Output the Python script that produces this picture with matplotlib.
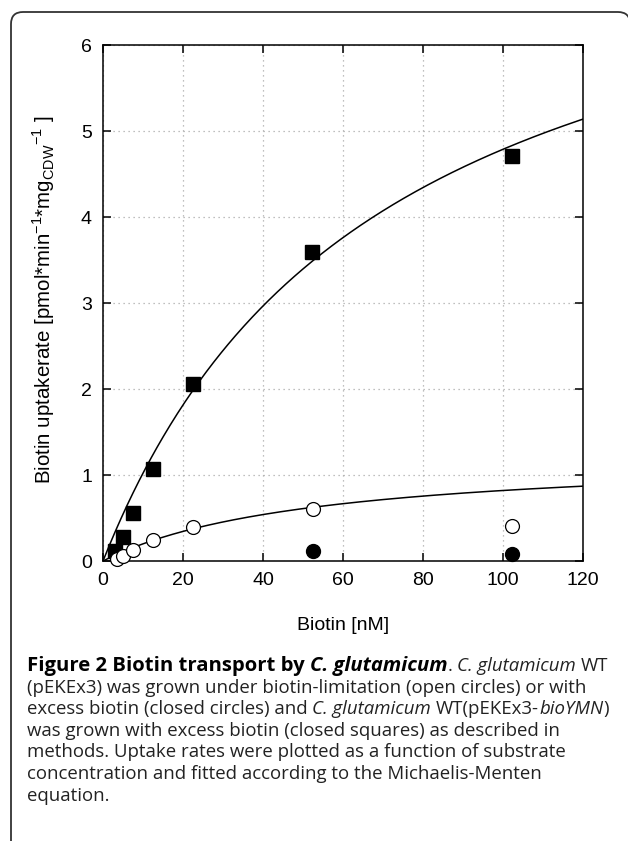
import numpy as np
import matplotlib
matplotlib.use('Agg')
from matplotlib import pyplot as plt
from matplotlib.path import Path
from matplotlib.patches import PathPatch

# data
sq_x = [3.0, 4.9, 7.4, 12.4, 22.4, 52.2, 102.3]
sq_y = [0.12, 0.28, 0.56, 1.07, 2.06, 3.59, 4.71]
open_x = [3.4, 5.1, 7.4, 12.4, 22.6, 52.4, 102.3]
open_y = [0.02, 0.06, 0.13, 0.24, 0.39, 0.60, 0.41]
closed_x = [52.4, 102.3]
closed_y = [0.12, 0.08]

# Michaelis-Menten fits (Vmax, Km)
sq_fit = (8.11, 69.4)
open_fit = (1.253, 52.8)

x_ticks = [0, 20, 40, 60, 80, 100, 120]
y_ticks = [0, 1, 2, 3, 4, 5, 6]

W, H = 628, 841
plt.rcParams['font.family'] = ['Liberation Sans', 'DejaVu Sans']
fig = plt.figure(figsize=(W / 100, H / 100), dpi=100)

# frame with rounded top corners (pixel coords -> inches)
def px(x, y):
    return (x / 100, (H - y) / 100)

verts = [px(11, H + 5), px(11, 24), px(11, 12), px(23, 12), px(618, 12),
         px(630, 12), px(630, 24), px(630, H + 5)]
codes = [Path.MOVETO, Path.LINETO, Path.CURVE3, Path.CURVE3, Path.LINETO,
         Path.CURVE3, Path.CURVE3, Path.LINETO]
fig.patches.append(PathPatch(Path(verts, codes), transform=fig.dpi_scale_trans,
                             fc='none', ec='#333333', lw=1.3))

ax = fig.add_axes([103 / W, 1 - 561 / H, 480 / W, 516 / H])

xx = np.linspace(0, 120, 400)
ax.plot(xx, sq_fit[0] * xx / (sq_fit[1] + xx), color='black', lw=1.1, zorder=3)
ax.plot(xx, open_fit[0] * xx / (open_fit[1] + xx), color='black', lw=1.1, zorder=3)

ax.plot(sq_x, sq_y, 's', color='black', ms=9.5, zorder=4, clip_on=False)
ax.plot(closed_x, closed_y, 'o', color='black', ms=10, zorder=5, clip_on=False)
ax.plot(open_x, open_y, 'o', mfc='white', mec='black', mew=0.9, ms=10, zorder=6, clip_on=False)

ax.set_xlim(0, 120)
ax.set_ylim(0, 6)
ax.set_xticks(x_ticks)
ax.set_yticks(y_ticks)
ax.tick_params(direction='in', length=6, width=1.1, top=True, right=True,
               labelsize=14, pad=8)
for s in ax.spines.values():
    s.set_linewidth(1.1)
ax.grid(True, linestyle=(0, (1, 3)), color='#aaaaaa', lw=0.9)
ax.set_axisbelow(True)

ax.set_xlabel('Biotin [nM]', fontsize=14, labelpad=20)
fig.text(44 / W, 1 - 300 / H,
         r'Biotin uptakerate [pmol*min$^{\mathregular{-1}}$*mg$_{\mathregular{CDW}}$$^{\mathregular{-1}}$ ]',
         rotation=90, ha='center', va='center', fontsize=14.8)

# caption, drawn fragment by fragment
renderer = fig.canvas.get_renderer()
cap_kw = dict(family=['Open Sans', 'DejaVu Sans'], color='#222222')


def size_for(weight):
    return 14.6 if weight == 'bold' else 13.4


def space_w(weight, style):
    a = fig.text(0, 0, 'a a', weight=weight, style=style, fontsize=size_for(weight), **cap_kw)
    b = fig.text(0, 0, 'aa', weight=weight, style=style, fontsize=size_for(weight), **cap_kw)
    w = a.get_window_extent(renderer).width - b.get_window_extent(renderer).width
    a.remove()
    b.remove()
    return w


def draw_line(y, frags, x0=27):
    x = x0
    for txt, weight, style in frags:
        sw = space_w(weight, style)
        core = txt.strip(' ')
        lead = len(txt) - len(txt.lstrip(' '))
        trail = len(txt) - len(txt.rstrip(' '))
        x += lead * sw
        kw = dict(cap_kw)
        if weight == 'bold':
            kw['color'] = 'black'
        t = fig.text(x / W, 1 - y / H, core, weight=weight, style=style,
                     fontsize=size_for(weight), ha='left', va='baseline', **kw)
        x += t.get_window_extent(renderer).width + trail * sw


N, I = 'normal', 'italic'
B = 'bold'
caption = [
    [('Figure 2 Biotin transport by ', B, N), ('C. glutamicum', B, I), ('. ', N, N),
     ('C. glutamicum', N, I), (' WT', N, N)],
    [('(pEKEx3) was grown under biotin-limitation (open circles) or with', N, N)],
    [('excess biotin (closed circles) and ', N, N), ('C. glutamicum', N, I),
     (' WT(pEKEx3-', N, N), ('bioYMN', N, I), (')', N, N)],
    [('was grown with excess biotin (closed squares) as described in', N, N)],
    [('methods. Uptake rates were plotted as a function of substrate', N, N)],
    [('concentration and fitted according to the Michaelis-Menten', N, N)],
    [('equation.', N, N)],
]
for i, frags in enumerate(caption):
    draw_line(671 + i * 21.6, frags)

fig.savefig('out.png', dpi=100)
